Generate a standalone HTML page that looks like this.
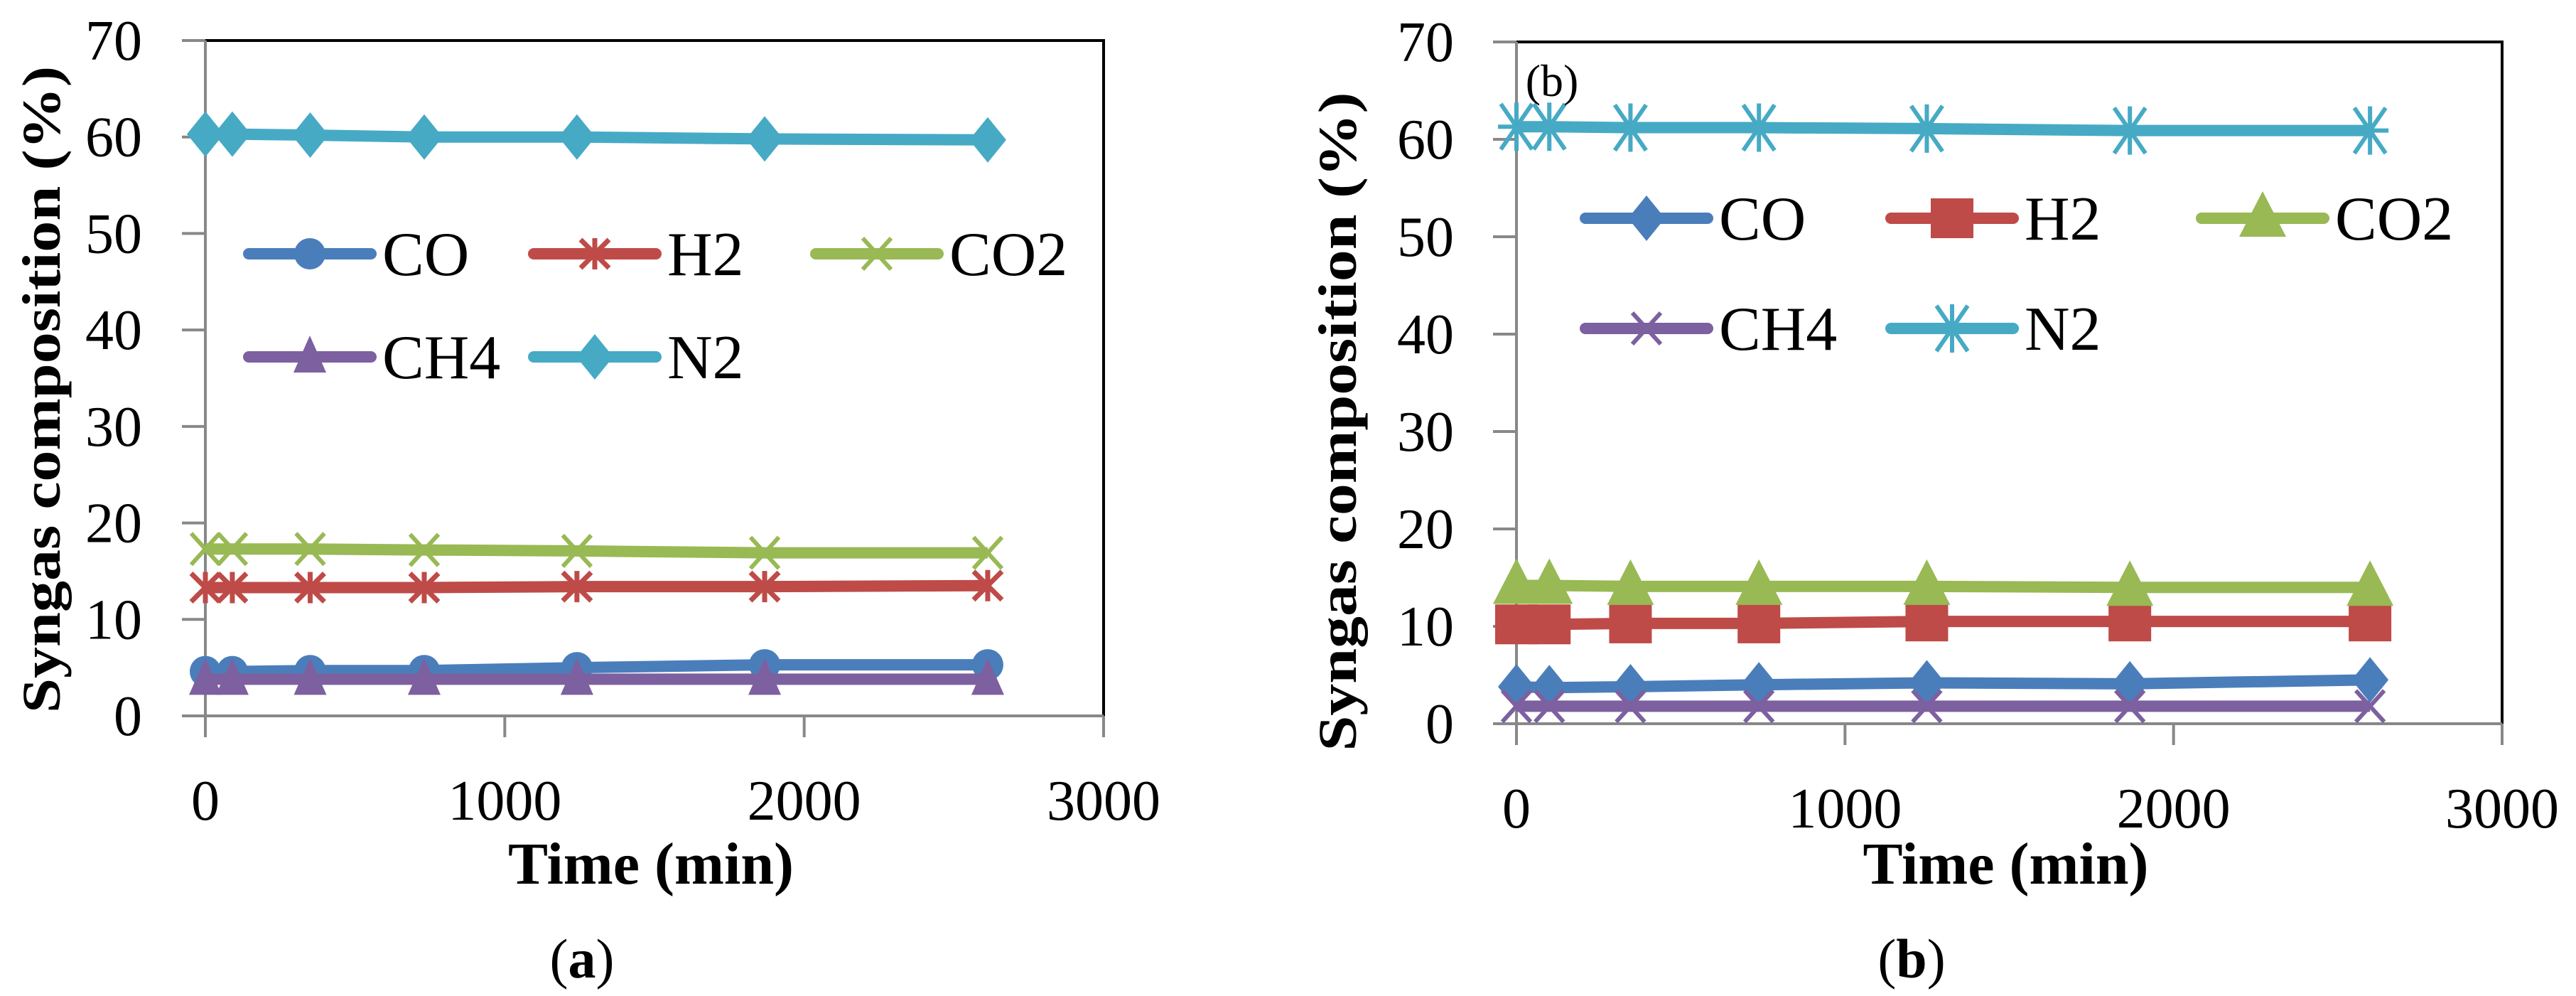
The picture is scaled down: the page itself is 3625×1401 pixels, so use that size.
<!DOCTYPE html>
<html><head><meta charset="utf-8"><style>
html,body{margin:0;padding:0;background:#fff;}
svg{display:block;}
text{font-family:"Liberation Serif",serif;fill:#000;}
</style></head><body>
<svg id="fig" width="3625" height="1401" viewBox="0 0 3625 1401"></svg>
<script>
// ---- Data panel (a) ----
const timeA = [0, 90, 350, 731, 1241, 1868, 2613];
const coA  = [4.6, 4.6, 4.7, 4.7, 5.0, 5.3, 5.3];
const h2A  = [13.3, 13.3, 13.3, 13.3, 13.4, 13.4, 13.5];
const co2A = [17.3, 17.3, 17.3, 17.2, 17.1, 16.9, 16.9];
const ch4A = [3.8, 3.8, 3.8, 3.8, 3.8, 3.8, 3.8];
const n2A  = [60.3, 60.3, 60.2, 60.0, 60.0, 59.8, 59.7];
// ---- Data panel (b) ----
const timeB = [0, 100, 347, 738, 1249, 1867, 2598];
const coB  = [3.8, 3.7, 3.8, 4.0, 4.2, 4.1, 4.5];
const h2B  = [10.2, 10.2, 10.3, 10.3, 10.5, 10.5, 10.5];
const co2B = [14.2, 14.2, 14.1, 14.1, 14.1, 14.0, 14.0];
const ch4B = [1.8, 1.8, 1.8, 1.8, 1.8, 1.8, 1.8];
const n2B  = [61.3, 61.3, 61.2, 61.2, 61.1, 60.9, 60.9];
// ---- Ticks ----
const yTicks = [0, 10, 20, 30, 40, 50, 60, 70];
const xTicks = [0, 1000, 2000, 3000];
const seriesNames = ["CO", "H2", "CO2", "CH4", "N2"];

const NS = "http://www.w3.org/2000/svg";
const svg = document.getElementById("fig");
const COL = {CO:"#4a7ebb", H2:"#be4b48", CO2:"#98b954", CH4:"#7d60a0", N2:"#46aac5"};

function el(tag, attrs, parent){
  const e = document.createElementNS(NS, tag);
  for (const k in attrs) e.setAttribute(k, attrs[k]);
  (parent||svg).appendChild(e);
  return e;
}

function marker(g, type, cx, cy, color){
  let m;
  if (type==="circle"){ m = el("circle",{cx:cx,cy:cy,r:22,fill:color},g); }
  else if (type==="asterisk"){
    m = el("path",{d:`M${cx-20},${cy-20}L${cx+20},${cy+20}M${cx+20},${cy-20}L${cx-20},${cy+20}M${cx},${cy-22}L${cx},${cy+22}`,stroke:color,"stroke-width":7,fill:"none"},g);
  }
  else if (type==="x"){
    m = el("path",{d:`M${cx-20},${cy-22}L${cx+20},${cy+22}M${cx+20},${cy-22}L${cx-20},${cy+22}`,stroke:color,"stroke-width":6,fill:"none"},g);
  }
  else if (type==="triSmall"){ m = el("path",{d:`M${cx},${cy-30}L${cx+23},${cy+22}L${cx-23},${cy+22}Z`,fill:color},g); }
  else if (type==="diamond"){ m = el("path",{d:`M${cx},${cy-32}L${cx+26},${cy}L${cx},${cy+32}L${cx-26},${cy}Z`,fill:color},g); }
  else if (type==="square"){ m = el("rect",{x:cx-30,y:cy-28,width:60,height:56,fill:color},g); }
  else if (type==="triangle"){ m = el("path",{d:`M${cx},${cy-38}L${cx+33},${cy+26}L${cx-33},${cy+26}Z`,fill:color},g); }
  else if (type==="star"){
    m = el("path",{d:`M${cx-22},${cy-32}L${cx+22},${cy+32}M${cx+22},${cy-32}L${cx-22},${cy+32}M${cx},${cy-34}L${cx},${cy+34}M${cx-26},${cy}L${cx+26},${cy}`,stroke:color,"stroke-width":6,fill:"none"},g);
  }
  return m;
}

function panel(cfg){
  const {L,R,T,B,xMax,times,series,markers,legendCols,legendRows,tickRight,titleX,titleLen,titleCY,name} = cfg;
  const g = el("g",{});
  
  
  const xs = v => L + (v/xMax)*(R-L);
  const ys = v => B - (v/70)*(B-T);
  // frame
  const fr = el("path",{d:`M${L},${T}L${R},${T}L${R},${B}`,stroke:"#000","stroke-width":4,fill:"none"},g);
  
  
  const ya = el("line",{x1:L,y1:T,x2:L,y2:B+30,stroke:"#888","stroke-width":4},g);
  
  
  const xa = el("line",{x1:L-33,y1:B,x2:R,y2:B,stroke:"#888","stroke-width":4},g);
  
  
  yTicks.forEach(t=>{
    const y = ys(t);
    el("line",{x1:L-33,y1:y,x2:L,y2:y,stroke:"#888","stroke-width":4},g);
    const tx = el("text",{x:tickRight,y:y+27,"text-anchor":"end","font-size":80},g);
    
    
    tx.textContent = t;
  });
  xTicks.forEach(t=>{
    const x = xs(t);
    el("line",{x1:x,y1:B,x2:x,y2:B+30,stroke:"#888","stroke-width":4},g);
    const tx = el("text",{x:x,y:B+146,"text-anchor":"middle","font-size":80},g);
    
    
    tx.textContent = t;
  });
  // series
  seriesNames.forEach((s,i)=>{
    const sg = el("g",{},g);
    
    
    const pts = times.map((t,j)=>xs(t)+","+ys(series[i][j])).join(" ");
    el("polyline",{points:pts,stroke:COL[s],"stroke-width":16,fill:"none","stroke-linejoin":"round"},sg);
    times.forEach((t,j)=>{
      const m = marker(sg, markers[i], xs(t), ys(series[i][j]), COL[s]);
      
      
    });
  });
  // legend
  const lg = el("g",{},g);
  
  
  seriesNames.forEach((s,i)=>{
    const col = legendCols[i%3], row = legendRows[Math.floor(i/3)];
    const eg = el("g",{},lg);
    
    
    el("line",{x1:col,y1:row,x2:col+172,y2:row,stroke:COL[s],"stroke-width":16,"stroke-linecap":"round"},eg);
    marker(eg, markers[i], col+86, row, COL[s]);
    const t = el("text",{x:col+188,y:row+30,"font-size":88},eg);
    t.textContent = s;
  });
  // titles
  const yt = el("text",{transform:`translate(${titleX},${titleCY}) rotate(-90)`,"text-anchor":"middle","font-size":76,"font-weight":"bold",textLength:titleLen,lengthAdjust:"spacingAndGlyphs"},g);
  
  
  yt.textContent = "Syngas composition (%)";
  const xt = el("text",{x:(xs(0)+xs(xMax))/2 - 5,y:1243,"text-anchor":"middle","font-size":84,"font-weight":"bold"},g);
  
  
  xt.textContent = "Time (min)";
}

panel({name:"panel-a",L:289,R:1553,T:57,B:1007,xMax:3000,times:timeA,
  series:[coA,h2A,co2A,ch4A,n2A],markers:["circle","asterisk","x","triSmall","diamond"],
  legendCols:[350,751,1148],legendRows:[357,502],tickRight:200,titleX:84,titleLen:910,titleCY:548});
panel({name:"panel-b",L:2134,R:3521,T:59,B:1018,xMax:3000,times:timeB,
  series:[coB,h2B,co2B,ch4B,n2B],markers:["diamond","square","triangle","x","star"],
  legendCols:[2231,2661,3098],legendRows:[307,462],tickRight:2046,titleX:1908,titleLen:927,titleCY:593});

// inner (b) label & captions
const ib = el("text",{x:2184,y:135,"text-anchor":"middle","font-size":64});


ib.textContent = "(b)";
const ca = el("text",{x:819,y:1375,"text-anchor":"middle","font-size":78});


ca.innerHTML = '(<tspan font-weight="bold">a</tspan>)';
const cb = el("text",{x:2690,y:1375,"text-anchor":"middle","font-size":78});


cb.innerHTML = '(<tspan font-weight="bold">b</tspan>)';
</script>
</body></html>
